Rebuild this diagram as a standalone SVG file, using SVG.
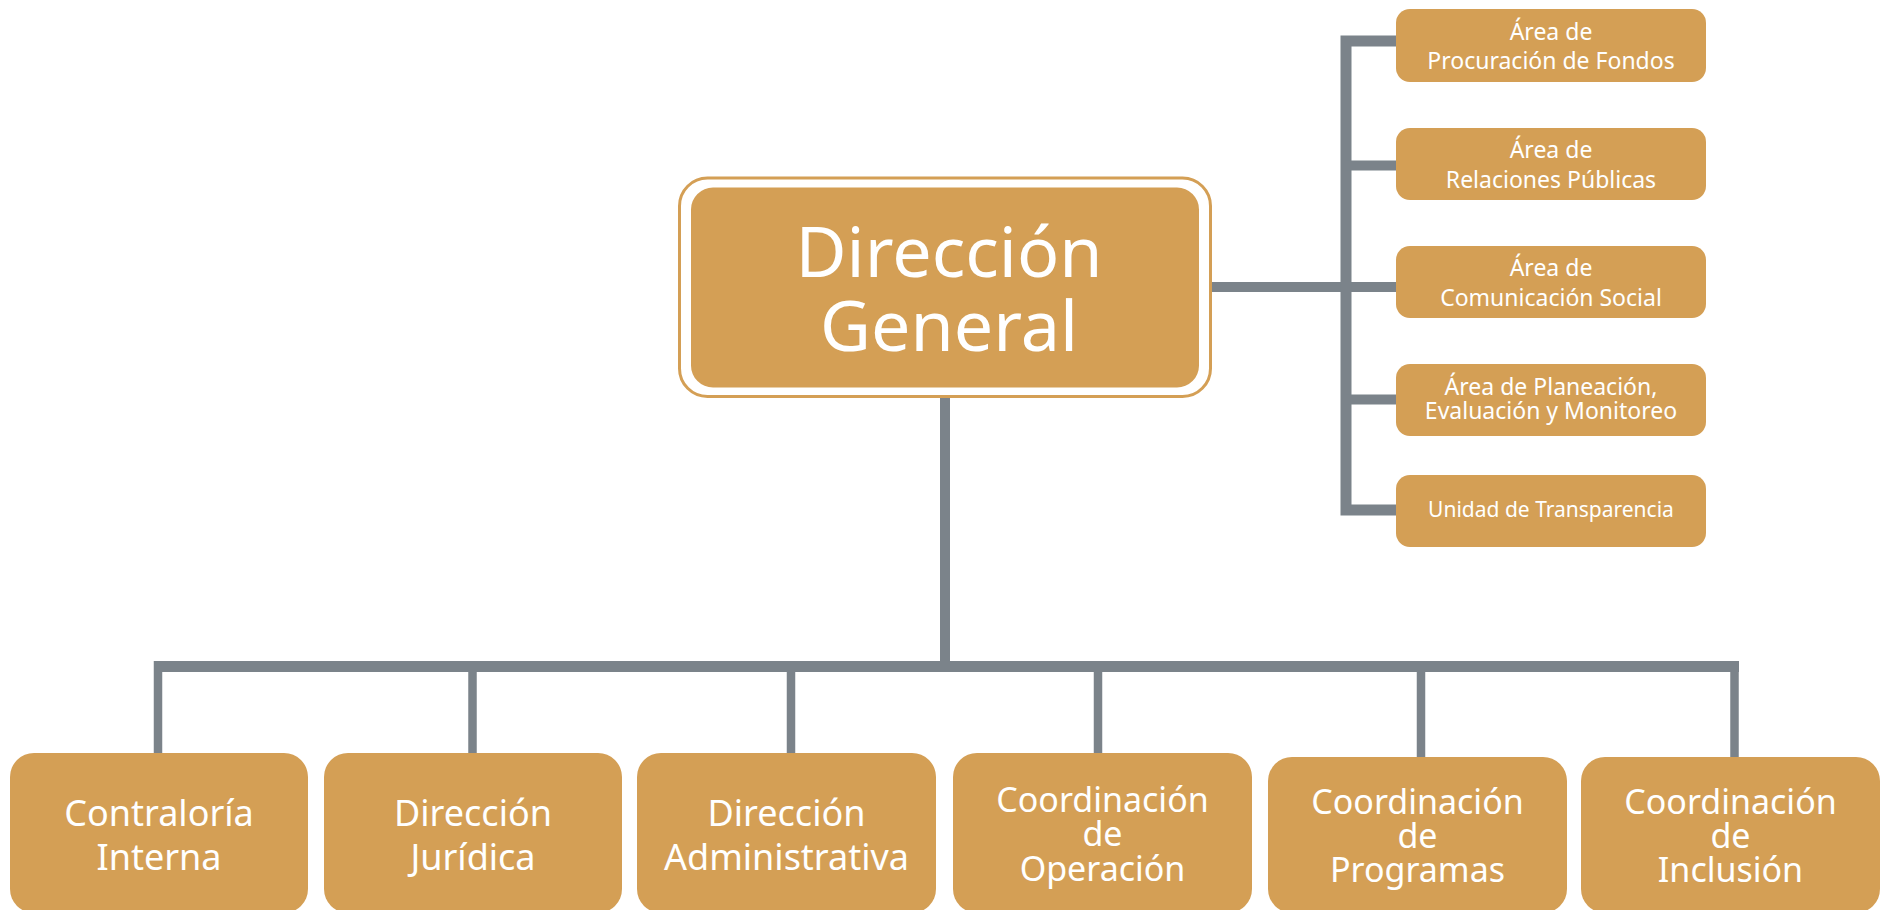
<svg xmlns="http://www.w3.org/2000/svg" width="1881" height="910" viewBox="0 0 1881 910">
<style>
.box{fill:#D49F55;}
.t{fill:#FFFFFF;font-family:"Noto Sans","Open Sans","DejaVu Sans",sans-serif;text-anchor:middle;}
.big{font-size:70px;}
.mid{font-size:36px;}
.co{font-size:34px;}
.sm{font-size:23px;}
.xs{font-size:21px;}
.ln{stroke:#7B838A;fill:none;stroke-linecap:butt;stroke-linejoin:miter;}
</style>
<rect width="1881" height="910" fill="#FFFFFF"/>
<g id="connectors">
  <line class="ln" x1="945" y1="397" x2="945" y2="672" stroke-width="10"/>
  <line class="ln" x1="154" y1="666.5" x2="1739" y2="666.5" stroke-width="11"/>
  <line class="ln" x1="158" y1="661" x2="158" y2="754" stroke-width="8.5"/>
  <line class="ln" x1="472.5" y1="661" x2="472.5" y2="754" stroke-width="8.5"/>
  <line class="ln" x1="791" y1="661" x2="791" y2="754" stroke-width="8.5"/>
  <line class="ln" x1="1098" y1="661" x2="1098" y2="754" stroke-width="8.5"/>
  <line class="ln" x1="1421" y1="661" x2="1421" y2="758" stroke-width="8.5"/>
  <line class="ln" x1="1734.5" y1="661" x2="1734.5" y2="758" stroke-width="8.5"/>
  <line class="ln" x1="1212" y1="287" x2="1400" y2="287" stroke-width="10"/>
  <path class="ln" d="M1398 41 H1346 V510 H1398" stroke-width="11"/>
  <line class="ln" x1="1346" y1="165.5" x2="1398" y2="165.5" stroke-width="10"/>
  <line class="ln" x1="1346" y1="399.5" x2="1398" y2="399.5" stroke-width="10"/>
</g>
<g id="direccion-general">
  <rect x="679.5" y="178" width="531" height="218.5" rx="28" fill="none" stroke="#D49F55" stroke-width="3"/>
  <rect class="box" x="691" y="187.5" width="508" height="200" rx="22"/>
  <text class="t big" x="949" y="277">Dirección</text>
  <text class="t big" x="949" y="351">General</text>
</g>
<g id="procuracion">
  <rect class="box" x="1396" y="9" width="310" height="73" rx="14"/>
  <text class="t sm" x="1551" y="40">Área de</text>
  <text class="t sm" x="1551" y="69">Procuración de Fondos</text>
</g>
<g id="relaciones">
  <rect class="box" x="1396" y="128" width="310" height="72" rx="14"/>
  <text class="t sm" x="1551" y="158">Área de</text>
  <text class="t sm" x="1551" y="188">Relaciones Públicas</text>
</g>
<g id="comunicacion">
  <rect class="box" x="1396" y="246" width="310" height="72" rx="14"/>
  <text class="t sm" x="1551" y="276">Área de</text>
  <text class="t sm" x="1551" y="306">Comunicación Social</text>
</g>
<g id="planeacion">
  <rect class="box" x="1396" y="364" width="310" height="72" rx="14"/>
  <text class="t sm" x="1551" y="395">Área de Planeación,</text>
  <text class="t sm" x="1551" y="419">Evaluación y Monitoreo</text>
</g>
<g id="transparencia">
  <rect class="box" x="1396" y="475" width="310" height="72" rx="14"/>
  <text class="t xs" x="1551" y="517">Unidad de Transparencia</text>
</g>
<g id="contraloria">
  <rect class="box" x="10" y="753" width="298" height="160" rx="24"/>
  <text class="t mid" x="159" y="826">Contraloría</text>
  <text class="t mid" x="159" y="870">Interna</text>
</g>
<g id="juridica">
  <rect class="box" x="324" y="753" width="298" height="160" rx="24"/>
  <text class="t mid" x="473" y="826">Dirección</text>
  <text class="t mid" x="473" y="870">Jurídica</text>
</g>
<g id="administrativa">
  <rect class="box" x="637" y="753" width="299" height="160" rx="24"/>
  <text class="t mid" x="786.5" y="826">Dirección</text>
  <text class="t mid" x="786.5" y="870">Administrativa</text>
</g>
<g id="operacion">
  <rect class="box" x="953" y="753" width="299" height="160" rx="24"/>
  <text class="t co" x="1102.5" y="812">Coordinación</text>
  <text class="t co" x="1102.5" y="846">de</text>
  <text class="t co" x="1102.5" y="881">Operación</text>
</g>
<g id="programas">
  <rect class="box" x="1268" y="757" width="299" height="156" rx="24"/>
  <text class="t co" x="1417.5" y="814">Coordinación</text>
  <text class="t co" x="1417.5" y="848">de</text>
  <text class="t co" x="1417.5" y="882">Programas</text>
</g>
<g id="inclusion">
  <rect class="box" x="1581" y="757" width="299" height="156" rx="24"/>
  <text class="t co" x="1730.5" y="814">Coordinación</text>
  <text class="t co" x="1730.5" y="848">de</text>
  <text class="t co" x="1730.5" y="882">Inclusión</text>
</g>
</svg>
